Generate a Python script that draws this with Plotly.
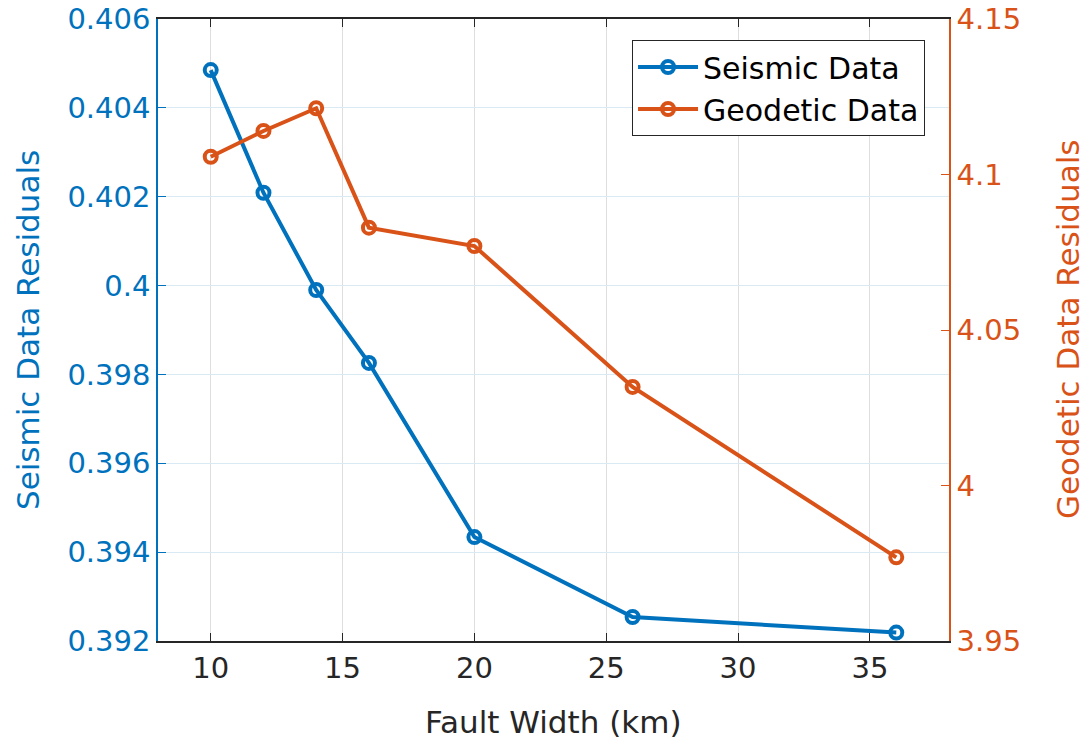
import plotly.graph_objects as go

fault_width = [10, 12, 14, 16, 20, 26, 36]
seismic_resid = [0.40485, 0.40209, 0.39990, 0.39826, 0.39434, 0.39254, 0.39219]
geodetic_resid = [4.1057, 4.1140, 4.1213, 4.0829, 4.0770, 4.0317, 3.9769]

x_ticks = [10, 15, 20, 25, 30, 35]
left_ticks = [0.392, 0.394, 0.396, 0.398, 0.400, 0.402, 0.404, 0.406]
left_labels = ["0.392", "0.394", "0.396", "0.398", "0.4", "0.402", "0.404", "0.406"]
right_ticks = [3.95, 4.0, 4.05, 4.1, 4.15]
right_labels = ["3.95", "4", "4.05", "4.1", "4.15"]

BLUE = "#0072BD"
ORANGE = "#D95319"
DARK = "#262626"
FONT = "DejaVu Sans"

fig = go.Figure()
fig.add_trace(go.Scatter(
    x=fault_width, y=seismic_resid, name="Seismic Data", mode="lines+markers",
    line=dict(color=BLUE, width=4),
    marker=dict(symbol="circle-open", size=12, color=BLUE, line=dict(width=4, color=BLUE)),
    yaxis="y"))
fig.add_trace(go.Scatter(
    x=fault_width, y=geodetic_resid, name="Geodetic Data", mode="lines+markers",
    line=dict(color=ORANGE, width=4),
    marker=dict(symbol="circle-open", size=12, color=ORANGE, line=dict(width=4, color=ORANGE)),
    yaxis="y2"))

fig.update_layout(
    width=1086, height=750,
    margin=dict(l=158, r=137, t=19, b=109, autoexpand=False),
    paper_bgcolor="white", plot_bgcolor="white",
    font=dict(family=FONT, size=29, color=DARK),
    showlegend=True,
    legend=dict(x=0.9697, y=0.9662, xanchor="right", yanchor="top",
                bgcolor="white", bordercolor=DARK, borderwidth=1,
                font=dict(family=FONT, size=30, color="black"),
                itemwidth=60, tracegroupgap=0),
    xaxis=dict(range=[8, 38], tickvals=x_ticks, ticks="inside", ticklen=8,
               tickcolor=DARK, showline=True, linecolor=DARK, linewidth=1.5,
               mirror="ticks", showgrid=True, gridcolor="#dedede", gridwidth=1,
               zeroline=False, automargin=False, tickfont=dict(size=29, color=DARK)),
    yaxis=dict(range=[0.392, 0.406], tickvals=left_ticks, ticktext=left_labels,
               ticks="inside", ticklen=8, tickcolor=BLUE, showline=True,
               linecolor=BLUE, linewidth=1.5, showgrid=True, gridcolor="#d9eaf5",
               zeroline=False, automargin=False, tickfont=dict(size=29, color=BLUE)),
    yaxis2=dict(range=[3.95, 4.15], tickvals=right_ticks, ticktext=right_labels,
                overlaying="y", side="right", ticks="inside", ticklen=8,
                tickcolor=ORANGE, showline=True, linecolor=ORANGE, linewidth=1.5,
                showgrid=False, zeroline=False, automargin=False,
                tickfont=dict(size=29, color=ORANGE)),
    annotations=[
        dict(text="Seismic Data Residuals", xref="paper", yref="paper",
             x=(28 - 158) / 791, y=0.5, xanchor="center", yanchor="middle",
             textangle=-90, showarrow=False, font=dict(size=31, color=BLUE, family=FONT)),
        dict(text="Geodetic Data Residuals", xref="paper", yref="paper",
             x=(1068 - 158) / 791, y=0.5, xanchor="center", yanchor="middle",
             textangle=-90, showarrow=False, font=dict(size=31, color=ORANGE, family=FONT)),
        dict(text="Fault Width (km)", xref="paper", yref="paper",
             x=0.5, y=-(722 - 641) / 622, xanchor="center", yanchor="middle",
             showarrow=False, font=dict(size=31, color=DARK, family=FONT)),
    ],
)

fig.write_html("out.html")
